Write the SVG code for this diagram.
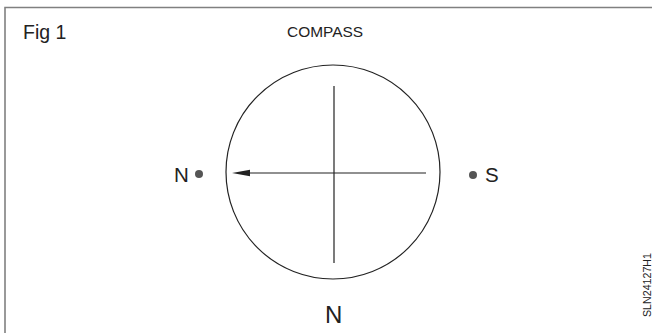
<svg xmlns="http://www.w3.org/2000/svg" width="652" height="333" viewBox="0 0 652 333">
<style>
.t{font-family:"Liberation Sans",Arial,sans-serif;fill:#222}
.ln{stroke:#222;stroke-width:1.2;fill:none}
</style>
<rect width="652" height="333" fill="#fff"/>
<path d="M5,333 V7.5 H652" stroke="#808080" stroke-width="1.6" fill="none"/>
<text class="t" x="23" y="39" font-size="19.5">Fig 1</text>
<text class="t" x="287" y="37" font-size="15" textLength="76" lengthAdjust="spacingAndGlyphs">COMPASS</text>
<g id="compass">
<circle class="ln" cx="333" cy="172" r="107"/>
</g>
<g id="connectors">
<line class="ln" x1="334" y1="86" x2="334" y2="263"/>
<line class="ln" x1="426" y1="173" x2="240" y2="173"/>
<path d="M232,173 L250,169.8 L250,176.2 Z" fill="#222"/>
</g>
<g id="north-left">
<text class="t" x="174" y="182" font-size="20.5">N</text>
<circle cx="199" cy="174" r="4" fill="#555"/>
</g>
<g id="south-right">
<circle cx="473" cy="175" r="4" fill="#555"/>
<text class="t" x="485" y="182" font-size="20.5">S</text>
</g>
<g id="north-bottom">
<text class="t" x="325" y="323" font-size="24">N</text>
</g>
<text class="t" transform="translate(651,317) rotate(-90)" font-size="11.5" textLength="64" lengthAdjust="spacingAndGlyphs">SLN24127H1</text>
</svg>
